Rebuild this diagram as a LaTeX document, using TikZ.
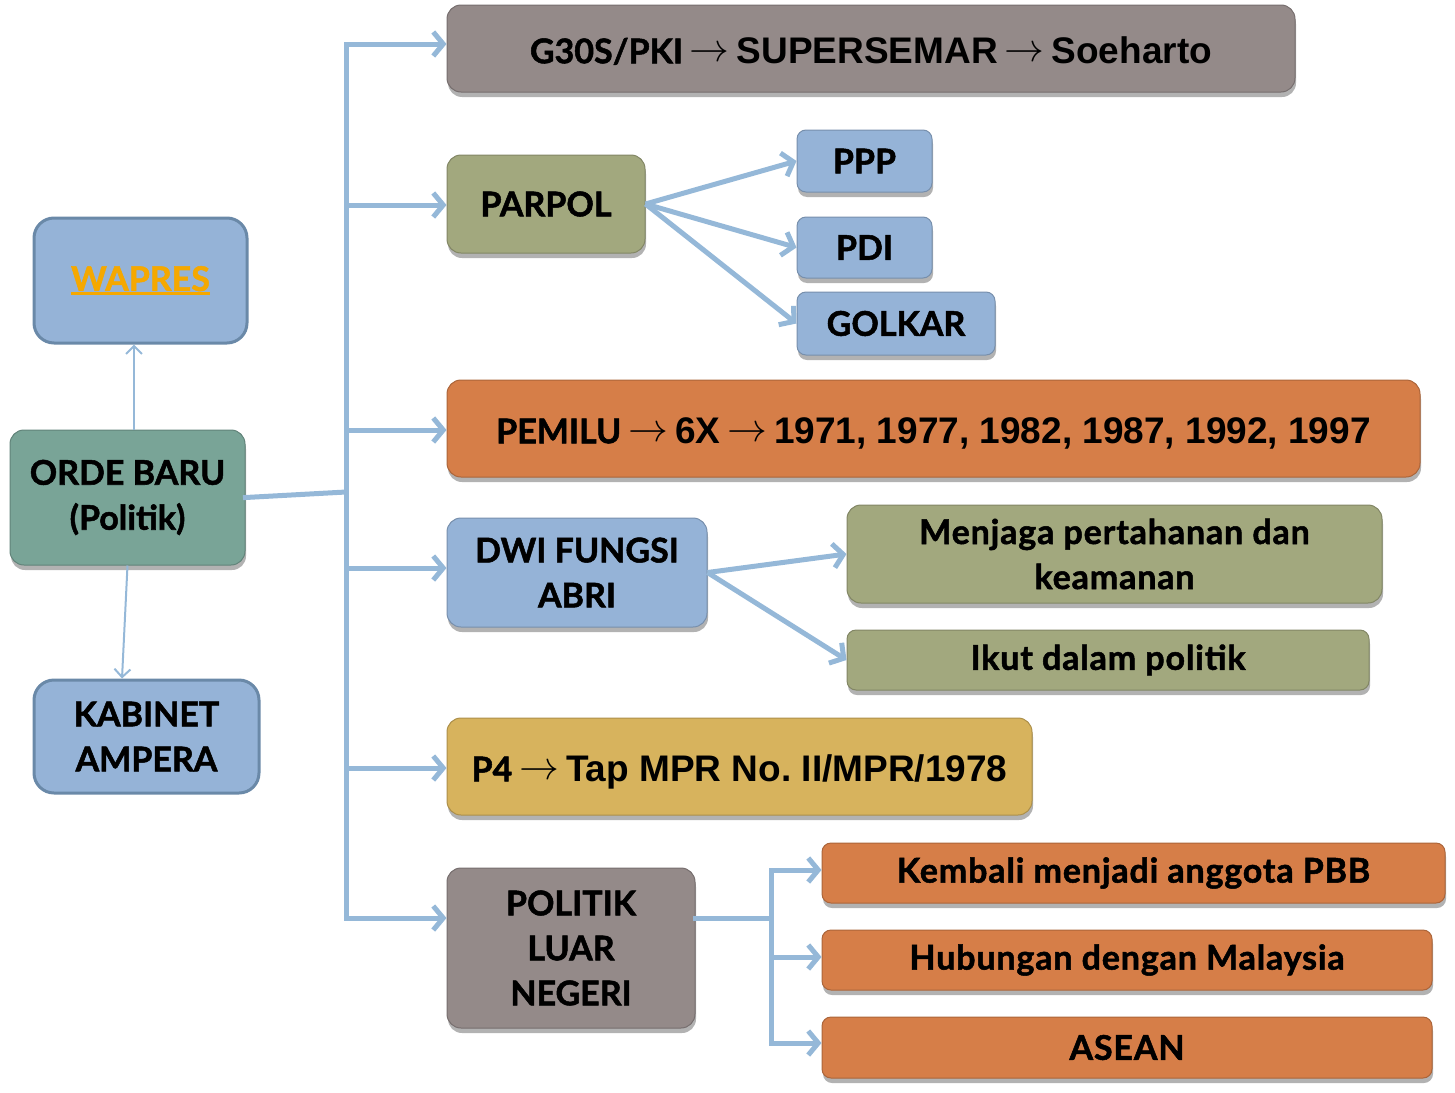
\documentclass[tikz,border=0pt]{standalone}
\usepackage{graphicx}
\usepackage{fontspec}
\setmainfont{Lato}[BoldFeatures={FakeBold=1.5}]
\newfontfamily\lowfont{Lato}[LetterSpace=2.5, BoldFeatures={FakeBold=1.5}]
\newfontfamily\arial{Liberation Sans}
\usetikzlibrary{arrows.meta,shadows}
\definecolor{cgray}{RGB}{148,138,137}
\definecolor{colive}{RGB}{162,168,126}
\definecolor{cblue}{RGB}{149,179,215}
\definecolor{cteal}{RGB}{121,164,151}
\definecolor{corange}{RGB}{214,126,72}
\definecolor{cgold}{RGB}{215,179,93}
\definecolor{cline}{RGB}{149,184,216}
\definecolor{cwap}{RGB}{245,168,0}
\definecolor{cbord}{RGB}{106,137,168}
\newcommand\fbig{\fontsize{34}{45}\selectfont\bfseries}
\newcommand\fsmall{\lowfont\fontsize{34}{45}\selectfont\bfseries}
\newcommand\ar[1]{{\arial\fontsize{37}{45}\selectfont\bfseries #1}}
\newcommand\rarr{\hspace{7pt}\raisebox{2pt}{\scalebox{1.6}{$\rightarrow$}}\hspace{7pt}}
\newcommand\uln[1]{{\setbox0\hbox{#1}\rlap{\rule[-4pt]{\wd0}{2.5pt}}\box0}}
\tikzset{
  box/.style={rounded corners=14pt, draw=#1!80!black, line width=1pt, fill=#1,
    align=center, inner sep=0pt, font=\fbig,
    drop shadow={shadow xshift=1pt, shadow yshift=-5pt, opacity=0.3, fill=black}},
  sbox/.style={box=#1, rounded corners=9pt, font=\fsmall},
  flatbox/.style={rounded corners=20pt, draw=cbord, line width=3pt, fill=cblue,
    align=center, inner sep=0pt, font=\fbig},
  artext/.style={text height=30pt, text depth=0.5pt},
  trunkline/.style={draw=cline, line width=5pt, line cap=rect},
  conn/.style={draw=cline, line width=5pt, -{Straight Barb[length=10pt,width=24pt]}},
  thinarrow/.style={draw=cline, line width=2pt, -{Straight Barb[length=8pt,width=16pt]}},
}
\begin{document}
\begin{tikzpicture}[x=1pt,y=-1pt]
\useasboundingbox (0,0) rectangle (1455,1092);
% left column
\node[flatbox, minimum width=213pt, minimum height=125pt] (wapres) at (140.5,280.5)
  {\textcolor{cwap}{\uln{WAPRES}}};
\node[box=cteal, minimum width=235pt, minimum height=135pt] (orde) at (127.5,497.5)
  {ORDE BARU\\(Politik)};
\node[flatbox, minimum width=225pt, minimum height=113pt] (kabinet) at (146.5,736.5)
  {KABINET\\AMPERA};
% main column
\node[box=cgray, artext, minimum width=848pt, minimum height=87pt] (g30s) at (871,48.5)
  {G30S/PKI\rarr\ar{SUPERSEMAR}\rarr\ar{Soeharto}};
\node[box=colive, minimum width=198pt, minimum height=98pt] (parpol) at (546,204) {PARPOL};
\node[sbox=cblue, font=\fbig, minimum width=135pt, minimum height=62pt] (ppp) at (864.5,161) {PPP};
\node[sbox=cblue, font=\fbig, minimum width=135pt, minimum height=61pt] (pdi) at (864.5,247.5) {PDI};
\node[sbox=cblue, font=\fbig, minimum width=198pt, minimum height=63pt] (golkar) at (896,323.5) {GOLKAR};
\node[box=corange, artext, minimum width=973pt, minimum height=97pt] (pemilu) at (933.5,428.5)
  {PEMILU\rarr\ar{6X}\rarr\ar{1971, 1977, 1982, 1987, 1992, 1997}};
\node[box=cblue, minimum width=260pt, minimum height=109pt] (dwi) at (577,572.5)
  {DWI FUNGSI\\ABRI};
\node[box=colive, font=\fsmall, minimum width=535pt, minimum height=98pt] (menjaga) at (1114.5,554)
  {Menjaga pertahanan dan\\keamanan};
\node[sbox=colive, minimum width=522pt, minimum height=60pt] (ikut) at (1108,660)
  {Ikut dalam politik};
\node[box=cgold, artext, minimum width=585pt, minimum height=97pt] (p4) at (739.5,766.5)
  {P4\rarr\ar{Tap MPR No.\ II/MPR/1978}};
\node[box=cgray, minimum width=248pt, minimum height=160pt] (pln) at (571,948)
  {POLITIK\\LUAR\\NEGERI};
\node[sbox=corange, minimum width=623pt, minimum height=60pt] (kembali) at (1133.5,873)
  {Kembali menjadi anggota PBB};
\node[sbox=corange, minimum width=610pt, minimum height=60pt] (hubungan) at (1127,960)
  {Hubungan dengan Malaysia};
\node[sbox=corange, minimum width=610pt, minimum height=61pt] (asean) at (1127,1047.5)
  {ASEAN};
% trunk coordinates
\coordinate (j1) at (346,44);
\coordinate (j2) at (346,205);
\coordinate (j3) at (346,430);
\coordinate (j4) at (346,568);
\coordinate (j5) at (346,768);
\coordinate (j6) at (346,918);
\coordinate (jo) at (346,492);
\coordinate (k0) at (771,918);
\coordinate (k1) at (771,870);
\coordinate (k2) at (771,957);
\coordinate (k3) at (771,1043);
% connectors
\draw[thinarrow] ([xshift=6.5pt]orde.north) -- ([xshift=-6.5pt]wapres.south);
\draw[thinarrow] (orde.south) -- ([xshift=-24.5pt]kabinet.north);
\draw[trunkline] (orde.east) -- (jo);
\draw[trunkline] (j1) -- (j6);
\foreach \j/\n in {j1/g30s, j2/parpol, j3/pemilu, j4/dwi, j5/p4, j6/pln}
  \draw[conn] (\j) -- (\j -| \n.west);
\draw[conn] (parpol.east) -- (ppp.west);
\draw[conn] (parpol.east) -- (pdi.west);
\draw[conn] (parpol.east) -- (golkar.west);
\draw[conn] (dwi.east) -- (menjaga.west);
\draw[conn] (dwi.east) -- (ikut.west);
\draw[trunkline] (pln.east |- k0) -- (k0);
\draw[trunkline] (k1) -- (k3);
\foreach \k/\n in {k1/kembali, k2/hubungan, k3/asean}
  \draw[conn] (\k) -- (\k -| \n.west);
\end{tikzpicture}
\end{document}
